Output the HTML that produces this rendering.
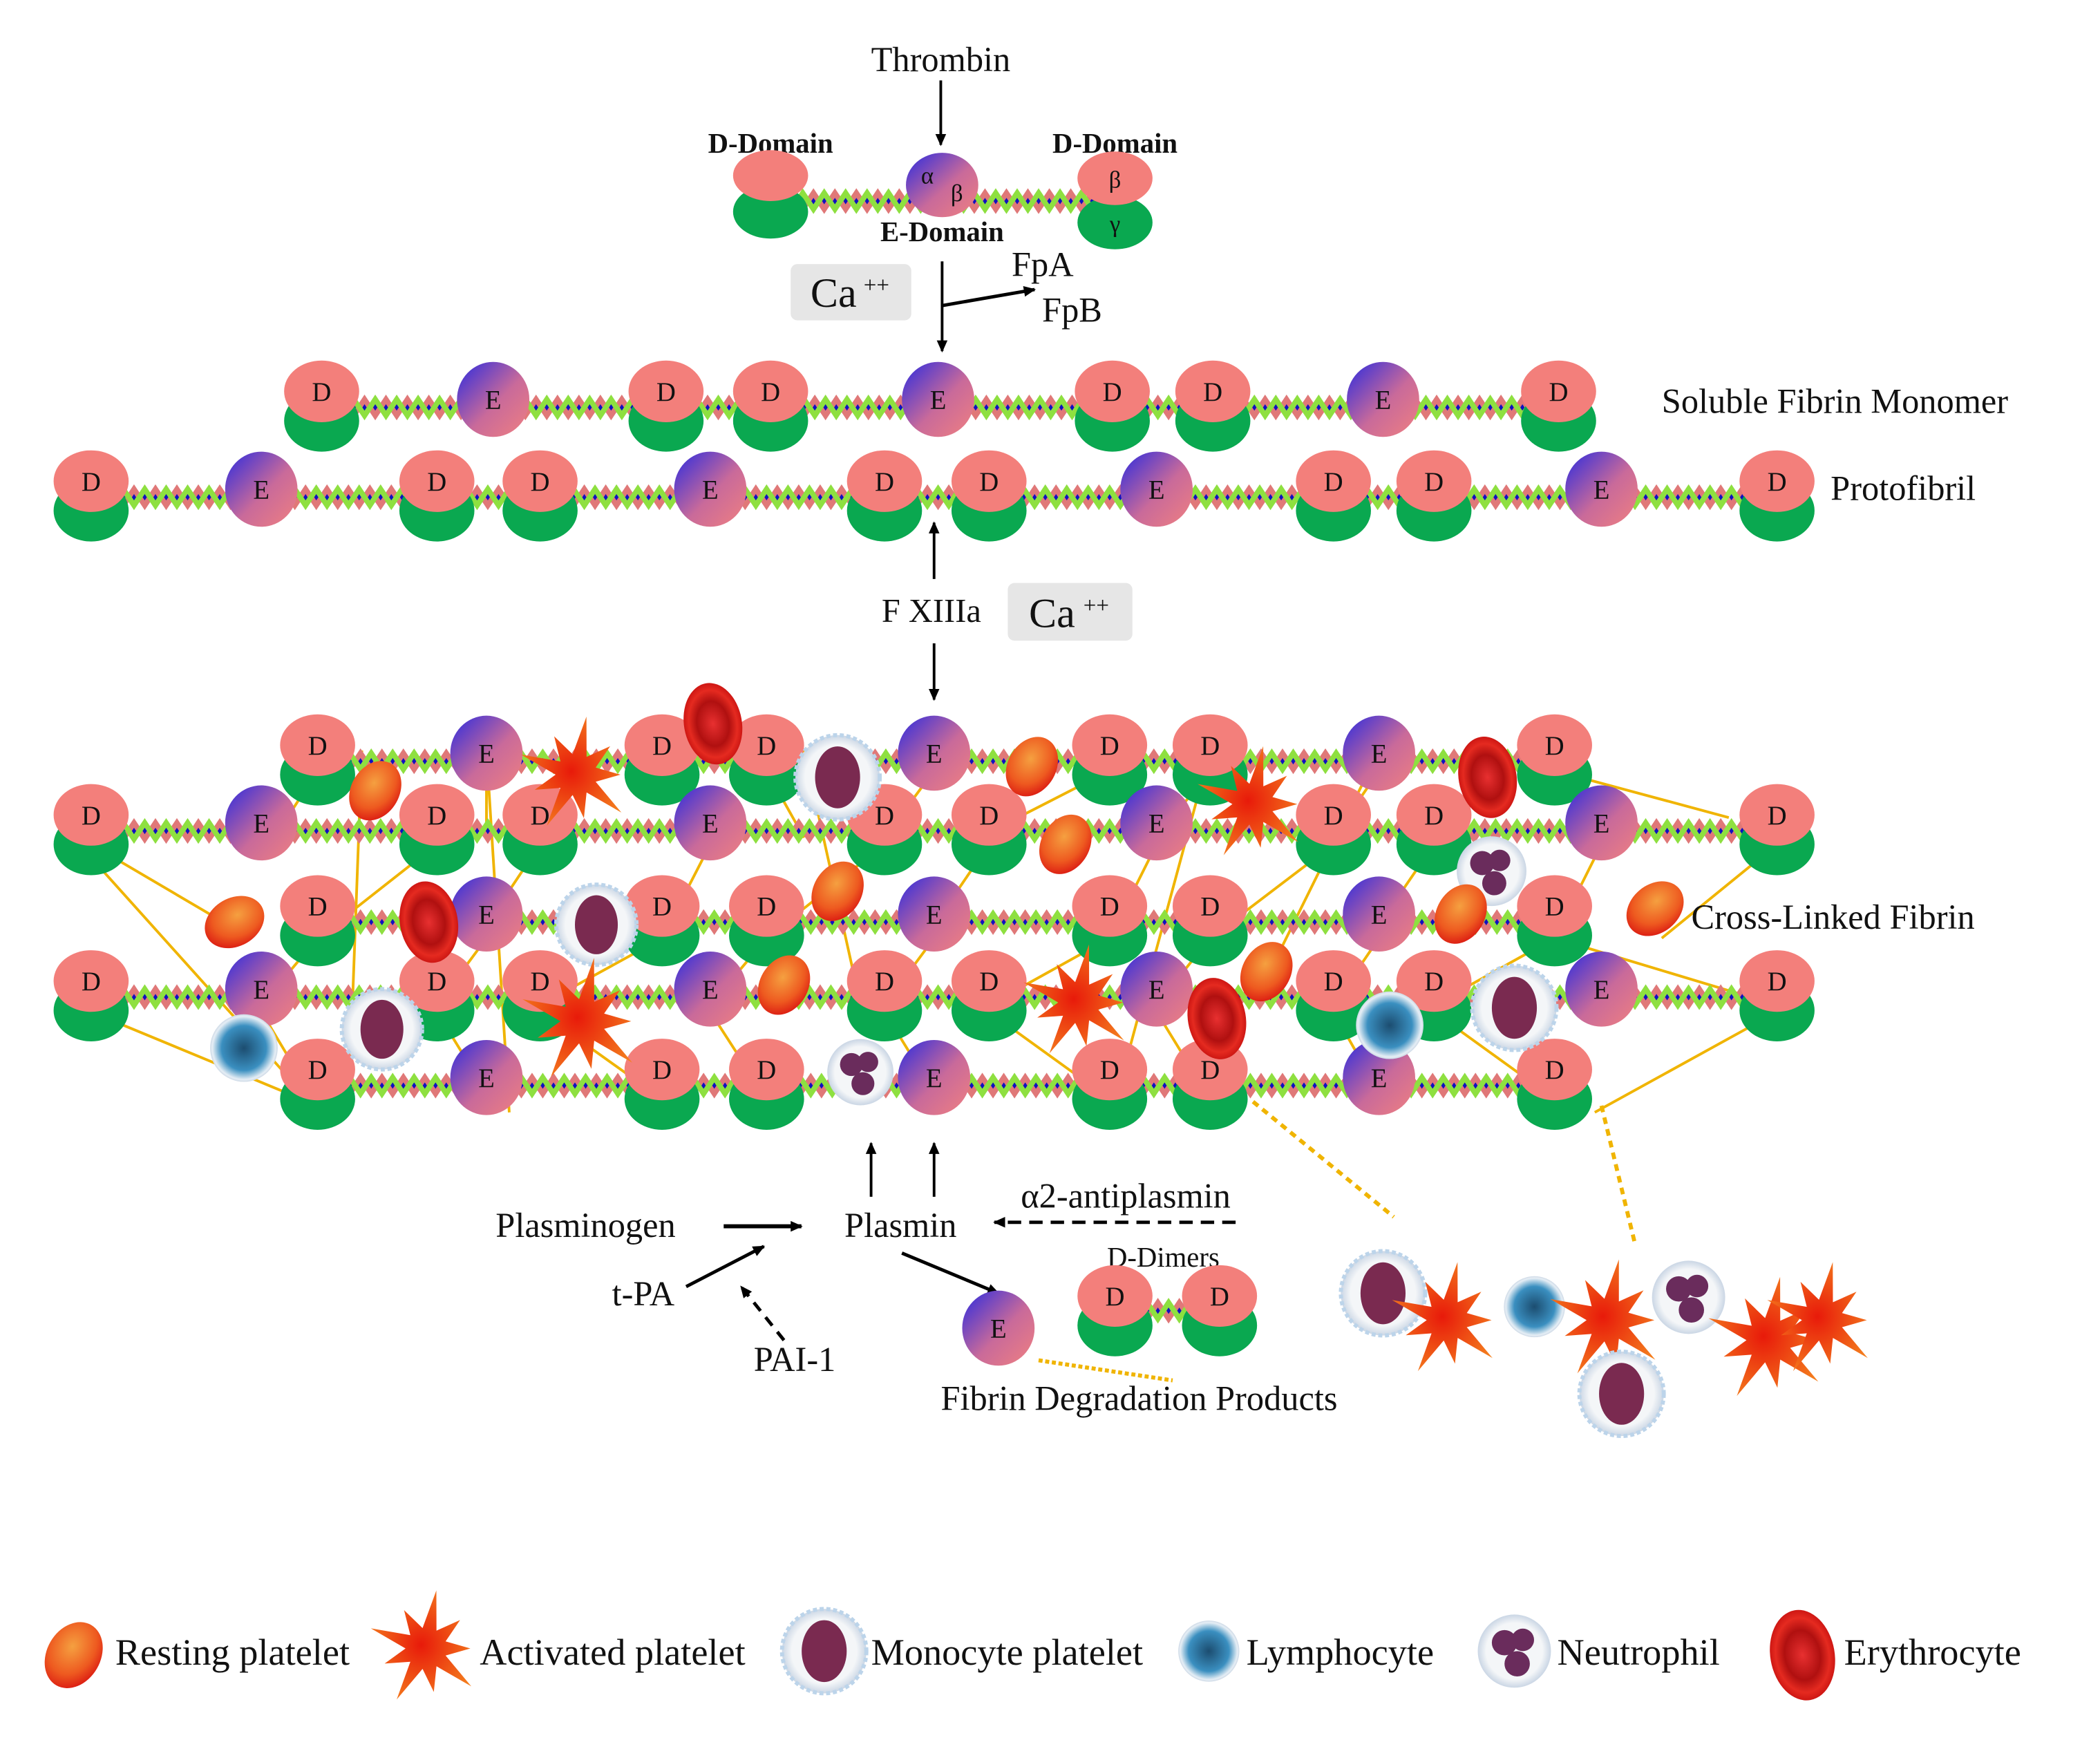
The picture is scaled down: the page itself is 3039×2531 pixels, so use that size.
<!DOCTYPE html>
<html><head><meta charset="utf-8"><style>
html,body{margin:0;padding:0;background:#fff;}
svg{display:block;}
text{font-family:"Liberation Serif",serif;fill:#111;}
</style></head><body>
<svg id="s" width="3039" height="2531" viewBox="0 0 1567 1305" xmlns="http://www.w3.org/2000/svg">
<defs>
<linearGradient id="eg" x1="0" y1="0" x2="1" y2="1"><stop offset="0" stop-color="#2a2ae0"/><stop offset="0.55" stop-color="#c96a9a"/><stop offset="1" stop-color="#f08080"/></linearGradient>
<radialGradient id="rp" cx="0.4" cy="0.4" r="0.7"><stop offset="0" stop-color="#f5a040"/><stop offset="0.6" stop-color="#ee5a20"/><stop offset="1" stop-color="#d81010"/></radialGradient>
<radialGradient id="ap" cx="0.5" cy="0.5" r="0.6"><stop offset="0" stop-color="#e81a0a"/><stop offset="1" stop-color="#f4801e"/></radialGradient>
<radialGradient id="er" cx="0.5" cy="0.5" r="0.55"><stop offset="0" stop-color="#e83030"/><stop offset="0.5" stop-color="#b01010"/><stop offset="0.75" stop-color="#e52a20"/><stop offset="1" stop-color="#c00c0c"/></radialGradient>
<radialGradient id="ly" cx="0.5" cy="0.5" r="0.55"><stop offset="0" stop-color="#1c4d70"/><stop offset="0.6" stop-color="#3a8fc0"/><stop offset="0.85" stop-color="#e6eef5"/><stop offset="1" stop-color="#aabbd0"/></radialGradient>
<radialGradient id="wc" cx="0.5" cy="0.5" r="0.55"><stop offset="0.7" stop-color="#f4f6f8"/><stop offset="1" stop-color="#b8c8dc"/></radialGradient>
<marker id="ah" markerWidth="10" markerHeight="10" refX="8" refY="5" orient="auto" markerUnits="userSpaceOnUse"><path d="M0,1 L9,5 L0,9 z" fill="#000"/></marker>
</defs>
<g id="g"></g>
</svg>
<script>
var g=document.getElementById('g');var NS='http://www.w3.org/2000/svg';
function el(t,a,txt){var e=document.createElementNS(NS,t);for(var k in a)e.setAttribute(k,a[k]);if(txt!==undefined)e.textContent=txt;g.appendChild(e);return e;}
function T(x,y,s,sz,opt){opt=opt||{};var a={x:x,y:y,'font-size':sz,'text-anchor':opt.a||'middle'};if(opt.b)a['font-weight']='bold';if(opt.i)a['font-style']='italic';if(opt.f)a.fill=opt.f;return el('text',a,s);}
function helix(x1,x2,y){el('line',{x1:x1,y1:y,x2:x2,y2:y,stroke:'#1010c0','stroke-width':6});
 var p='',q='';for(var x=x1;x<=x2;x+=8){var o=((x-x1)/8)%2?-6:6;p+=(p?' L':'M')+x+','+(y+o);q+=(q?' L':'M')+x+','+(y-o);}
 el('path',{d:q,stroke:'#e07878','stroke-width':4,fill:'none'});el('path',{d:p,stroke:'#8ee040','stroke-width':4,fill:'none'});}
function D(x,y,l1){el('ellipse',{cx:x,cy:y+22,rx:28,ry:23,fill:'#0aa850'});el('ellipse',{cx:x,cy:y,rx:28,ry:23,fill:'#f37f7b'});
 T(x,y+7,l1===undefined?'D':l1,20,{f:'#fff'});}
function E(x,y,l){el('ellipse',{cx:x,cy:y+6,rx:27,ry:28,fill:'url(#eg)'});if(l!==false)T(x,y+13,'E',20,{f:'#fff'});}
function row(y,Ds,Es,x1,x2){helix(x1,x2,y+12);Ds.forEach(function(x){D(x,y);});Es.forEach(function(x){E(x,y);});}
function arrow(x1,y1,x2,y2,w,dash){var a={x1:x1,y1:y1,x2:x2,y2:y2,stroke:'#000','stroke-width':w||2,'marker-end':'url(#ah)'};if(dash)a['stroke-dasharray']=dash;el('line',a);}
function rest(x,y,s,r){s=s||1;el('ellipse',{cx:x,cy:y,rx:20*s,ry:26*s,fill:'url(#rp)',transform:'rotate('+(r||30)+' '+x+' '+y+')'});}
function act(x,y,s){s=s||1;var p='';for(var i=0;i<18;i++){var a=i*Math.PI/9,r=(i%2?14:(i%4?40:30))*s;p+=(i?' L':'M')+(x+r*Math.cos(a)).toFixed(1)+','+(y+r*Math.sin(a)).toFixed(1);}el('path',{d:p+'z',fill:'url(#ap)'});}
function ery(x,y,s){s=s||1;el('ellipse',{cx:x,cy:y,rx:24*s,ry:34*s,fill:'url(#er)',transform:'rotate(-10 '+x+' '+y+')'});}
function mono(x,y,s){s=s||1;el('circle',{cx:x,cy:y,r:30*s,fill:'url(#wc)',stroke:'#bcd4ea','stroke-width':3,'stroke-dasharray':'3 2'});el('ellipse',{cx:x,cy:y,rx:16*s,ry:22*s,fill:'#7a2a50'});}
function lymph(x,y,s){s=s||1;el('circle',{cx:x,cy:y,r:24*s,fill:'url(#ly)'});}
function neut(x,y,s){s=s||1;el('circle',{cx:x,cy:y,r:26*s,fill:'url(#wc)'});el('circle',{cx:x-7*s,cy:y-6*s,r:9*s,fill:'#6a2c5c'});el('circle',{cx:x+6*s,cy:y-8*s,r:8*s,fill:'#6a2c5c'});el('circle',{cx:x+2*s,cy:y+9*s,r:9*s,fill:'#6a2c5c'});}
var FS=26;
T(702,53,'Thrombin',FS);arrow(702,60,702,108,2);
T(575,114,'D-Domain',21,{b:1});T(832,114,'D-Domain',21,{b:1});
helix(575,832,150);
el('ellipse',{cx:575,cy:158,rx:28,ry:20,fill:'#0aa850'});el('ellipse',{cx:575,cy:131,rx:28,ry:19,fill:'#f37f7b'});
el('ellipse',{cx:703,cy:138,rx:27,ry:24,fill:'url(#eg)'});T(692,137,'α',18,{f:'#fff'});T(714,150,'β',18,{f:'#fff'});
el('ellipse',{cx:832,cy:166,rx:28,ry:20,fill:'#0aa850'});el('ellipse',{cx:832,cy:133,rx:28,ry:20,fill:'#f37f7b'});
T(832,140,'β',18,{f:'#fff'});T(832,173,'γ',18,{f:'#fff'});
T(703,180,'E-Domain',21,{b:1});
el('rect',{x:590,y:197,width:90,height:42,rx:5,fill:'#e6e6e6'});T(622,229,'Ca',31);T(654,218,'++',17);
arrow(703,195,703,262,2);arrow(703,228,772,216,2.5);T(778,206,'FpA',FS);T(800,240,'FpB',FS);
row(292,[240,497,575,830,905,1163],[368,700,1032],240,1163);
T(1240,308,'Soluble Fibrin Monomer',FS,{a:'start'});
var PD=[68,326,403,660,738,995,1070,1326],PE=[195,530,863,1195];
row(359,PD,PE,68,1326);T(1366,373,'Protofibril',FS,{a:'start'});
arrow(697,432,697,390,2);T(695,464,'F XIIIa',25);
el('rect',{x:752,y:435,width:93,height:43,rx:5,fill:'#e6e6e6'});T(785,468,'Ca',31);T(818,457,'++',17);
arrow(697,480,697,522,2);
var R1D=[237,494,572,828,903,1160],R1E=[363,697,1029];
var ys=[556,608,676,732,798];
var Y='#f0b400';
var links=[[237,575,208,620],[363,570,363,620],[494,575,530,625],[572,575,600,625],[697,575,660,625],[828,575,740,620],[903,575,863,625],[1029,575,995,625],[1160,575,1195,620],[1160,575,1290,610],
[68,630,170,690],[326,630,237,700],[403,630,363,690],[530,630,494,700],[660,630,572,700],[738,630,697,690],[863,630,828,700],[995,630,903,700],[1070,630,1029,690],[1195,630,1160,700],[1326,630,1240,700],
[237,700,195,750],[363,700,326,750],[494,700,403,750],[572,700,530,750],[697,700,660,750],[828,700,738,750],[903,700,863,750],[1029,700,995,750],[1160,700,1070,750],[1160,700,1326,750],
[68,755,237,825],[195,755,237,825],[326,755,363,815],[403,755,494,820],[530,755,572,820],[660,755,697,815],[738,755,828,820],[863,755,903,820],[995,755,1029,815],[1070,755,1160,820],[1326,755,1190,830],
[68,640,237,828],[363,560,380,830],[903,560,830,830],[1029,560,940,740],[270,560,260,830],[600,560,640,740]];
links.forEach(function(l){el('line',{x1:l[0],y1:l[1],x2:l[2],y2:l[3],stroke:Y,'stroke-width':2});});
row(ys[0],R1D,R1E,237,1160);row(ys[1],PD,PE,68,1326);row(ys[2],R1D,R1E,237,1160);row(ys[3],PD,PE,68,1326);row(ys[4],R1D,R1E,237,1160);
T(1262,693,'Cross-Linked Fibrin',FS,{a:'start'});
rest(280,590,0.9);act(430,578,1.1);ery(532,540,0.9);mono(625,580,1.05);rest(770,572,0.9);act(935,600,1.1);ery(1110,580,0.9);
rest(795,630,0.9);neut(1113,650,1);rest(175,688,0.9,60);ery(320,688,0.9);mono(445,690,1);rest(625,665,0.9);rest(1090,682,0.9);rest(1235,678,0.9,50);
act(435,762,1.2);rest(585,735,0.9);act(805,748,1.1);ery(908,760,0.9);rest(945,725,0.9);lymph(1037,765,1.05);mono(1130,752,1.05);
lymph(182,782,1.05);mono(285,768,1);neut(642,800,0.95);
el('line',{x1:935,y1:822,x2:1040,y2:908,stroke:Y,'stroke-width':3,'stroke-dasharray':'5 4'});
el('line',{x1:1195,y1:825,x2:1220,y2:928,stroke:Y,'stroke-width':3,'stroke-dasharray':'5 4'});
arrow(650,893,650,853,2);arrow(697,893,697,853,2);
T(437,923,'Plasminogen',FS);arrow(540,915,598,915,3);T(672,923,'Plasmin',FS);
arrow(922,912,742,912,2.5,'10 6');T(840,901,'α2-antiplasmin',FS);
T(480,974,'t-PA',FS);arrow(512,960,570,930,2.5);T(593,1023,'PAI-1',FS);arrow(585,1000,553,960,2.5,'8 6');
arrow(673,935,745,965,2.5);E(745,985);T(868,945,'D-Dimers',21);
helix(832,910,978);D(832,967);D(910,967);
el('line',{x1:775,y1:1015,x2:875,y2:1030,stroke:Y,'stroke-width':3,'stroke-dasharray':'3 2'});
T(850,1052,'Fibrin Degradation Products',FS);
mono(1032,965,1.05);act(1080,985,1.1);lymph(1145,975,0.95);act(1200,985,1.15);neut(1260,968,1.05);act(1320,1000,1.2);act(1360,985,1.1);mono(1210,1040,1.05);
rest(55,1235,1,0);T(86,1242,'Resting platelet',28,{a:'start'});
act(318,1230,1.1);T(358,1242,'Activated platelet',28,{a:'start'});
mono(615,1232,1.05);T(650,1242,'Monocyte platelet',28,{a:'start'});
lymph(902,1232,0.95);T(930,1242,'Lymphocyte',28,{a:'start'});
neut(1130,1232,1.05);T(1162,1242,'Neutrophil',28,{a:'start'});
ery(1345,1235,1);T(1376,1242,'Erythrocyte',28,{a:'start'});
</script>
</body></html>
